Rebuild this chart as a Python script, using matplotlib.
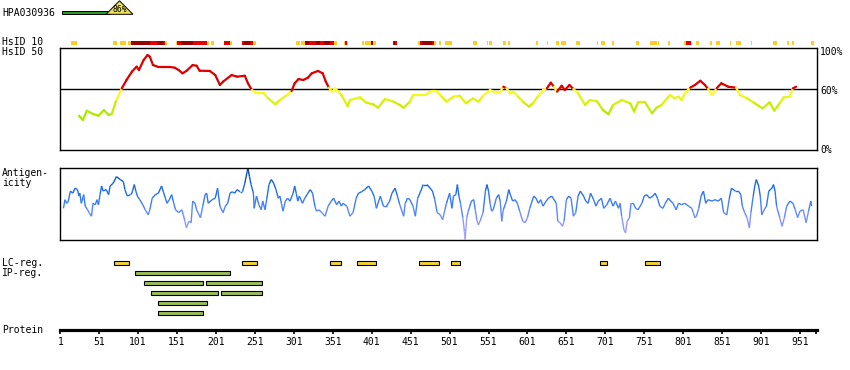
import matplotlib
matplotlib.use('Agg')
import matplotlib.pyplot as plt
import numpy as np
from matplotlib.collections import LineCollection
from matplotlib.colors import LinearSegmentedColormap
from matplotlib.patches import Rectangle, Polygon

# ---- data ----
antibody = "HPA030936"
antibody_score = 86
protein_len = 972

tick_res = [1, 51, 101, 151, 201, 251, 301, 351, 401, 451, 501, 551, 601, 651,
            701, 751, 801, 851, 901, 951]

# HsID 10 strip: (start, end) residue ranges per level
hs10_gold = [(15, 18), (19, 22), (69, 74), (78, 85), (88, 92), (136, 138), (149, 151),
             (189, 192), (194, 198), (219, 222), (249, 252), (304, 309), (310, 315),
             (352, 356), (366, 367), (369, 370), (388, 391), (392, 400), (402, 406),
             (424, 425), (460, 463), (481, 483), (487, 490), (495, 504), (531, 536),
             (549, 550), (552, 555), (570, 573), (576, 579), (612, 614), (626, 627),
             (638, 641), (644, 651), (663, 669), (690, 692), (695, 700), (709, 712),
             (741, 744), (758, 768), (769, 770), (781, 784), (802, 805), (811, 812),
             (817, 821), (835, 838), (843, 848), (861, 862), (869, 875), (888, 890),
             (916, 921), (935, 937), (941, 943), (965, 969)]
hs10_red = [(116, 125), (133, 136), (151, 156), (172, 189), (211, 219), (235, 237),
            (245, 249), (321, 329), (334, 340), (347, 352), (367, 369), (428, 429),
            (431, 434), (463, 465), (478, 481), (805, 811)]
hs10_dark = [(92, 116), (125, 133), (156, 172), (237, 245), (315, 321), (329, 334),
             (340, 347), (400, 402), (429, 431), (465, 478)]

# HsID 50 identity curve (%)
hs50_res = [25, 30, 35, 43, 50, 57, 63, 67, 73, 80, 86, 93, 99, 102, 108, 113, 116, 120,
            127, 142, 148, 153, 158, 163, 171, 176, 180, 193, 200, 206, 210, 221, 228,
            238, 242, 247, 253, 262, 268, 277, 283, 292, 298, 302, 307, 313, 319, 324,
            332, 338, 342, 346, 350, 354, 358, 362, 370, 373, 386, 394, 403, 409, 418,
            429, 437, 442, 450, 454, 461, 469, 478, 484, 491, 497, 506, 514, 522, 531,
            538, 544, 553, 559, 566, 570, 574, 579, 583, 589, 596, 603, 608, 615, 621,
            626, 631, 635, 639, 645, 649, 655, 660, 666, 675, 681, 690, 698, 705, 711,
            722, 733, 738, 743, 752, 761, 767, 773, 784, 790, 795, 799, 803, 810, 816,
            823, 829, 833, 838, 844, 850, 859, 869, 874, 883, 893, 903, 912, 918, 925,
            930, 938, 942, 946]
hs50_pct = [33.6, 29.4, 38.5, 35.3, 33.6, 39.2, 34.3, 35.3, 49, 60.5, 68.6, 76.8, 81.7,
            78.4, 88.2, 93.1, 91.5, 83.3, 81.4, 81.4, 80.7, 78.4, 75.2, 77.5, 83.3, 82.6,
            77.7, 77.5, 73.5, 63.7, 67, 73.5, 71.9, 72.8, 65.4, 58.8, 55.6, 55.6, 50.7,
            44.8, 49, 53.9, 57.8, 65.4, 69.6, 68.6, 70.9, 75.2, 77.5, 75.2, 67, 61.1,
            57.2, 60.5, 57.2, 53.9, 43.1, 49, 51.6, 46.4, 44.8, 41.5, 50, 47.4, 44.1,
            41.5, 47.4, 53.9, 53.9, 53.9, 57.8, 57.8, 52.3, 47.4, 52.3, 53.2, 45.8, 50.7,
            47.4, 53.2, 58.8, 56.5, 57.2, 62, 60.5, 55.6, 57.2, 52.3, 46.8, 42.5, 45.8,
            53.2, 58.8, 60.5, 66, 62, 57.2, 63, 58.8, 63.7, 59.8, 55.6, 44.1, 49, 48,
            39.2, 35, 44.1, 49, 45.8, 37.6, 46.8, 46.8, 36, 41.5, 44.1, 53.9, 50.7, 52.3,
            49, 55.6, 61.1, 63.7, 67.9, 63.7, 59.8, 53.9, 60.5, 65.4, 62, 61.1, 53.9,
            50.7, 45.8, 40.8, 46.8, 38.5, 45.8, 51.6, 52.3, 60.5, 62]

# antigenicity profile (relative height, 0-100)
ant_res = [5, 7, 9, 11, 14, 17, 20, 23, 25, 26, 28, 31, 33, 36, 38, 41, 43, 46, 48, 50,
           52, 54, 56, 60, 63, 65, 69, 73, 78, 82, 84, 87, 91, 93, 96, 98, 100, 103, 107,
           110, 114, 116, 119, 123, 127, 131, 133, 136, 138, 141, 144, 146, 149, 153, 157,
           159, 161, 163, 166, 169, 171, 174, 176, 181, 184, 187, 189, 191, 196, 200, 203,
           206, 210, 213, 216, 219, 222, 225, 228, 232, 235, 238, 241, 242, 244, 246, 249,
           250, 253, 256, 259, 261, 264, 266, 269, 272, 275, 278, 281, 283, 285, 287, 290,
           293, 296, 300, 302, 304, 306, 308, 312, 315, 319, 322, 325, 328, 330, 333, 337,
           341, 345, 349, 352, 356, 359, 362, 364, 369, 373, 377, 381, 384, 388, 392, 397,
           401, 404, 407, 412, 416, 420, 424, 427, 431, 434, 437, 442, 444, 447, 450, 454,
           457, 460, 464, 467, 472, 476, 479, 482, 485, 489, 492, 495, 497, 501, 504, 506,
           509, 511, 513, 515, 518, 520, 521, 523, 525, 527, 529, 532, 534, 536, 538, 540,
           544, 547, 549, 551, 553, 555, 557, 561, 564, 566, 568, 570, 574, 577, 579, 582,
           585, 588, 591, 595, 598, 601, 604, 609, 612, 615, 618, 621, 625, 628, 632, 634,
           638, 640, 643, 646, 648, 651, 654, 657, 660, 663, 666, 669, 673, 676, 679, 682,
           686, 689, 692, 696, 699, 703, 707, 711, 714, 718, 720, 722, 725, 727, 729, 732,
           734, 737, 740, 743, 748, 751, 754, 758, 762, 765, 768, 771, 775, 778, 782, 785,
           788, 792, 795, 799, 803, 808, 812, 814, 816, 818, 821, 824, 827, 830, 833, 838,
           842, 846, 850, 853, 857, 860, 863, 868, 872, 875, 877, 880, 883, 886, 888, 891,
           893, 895, 898, 900, 902, 905, 908, 911, 915, 917, 919, 921, 925, 928, 931, 934,
           938, 942, 945, 948, 951, 955, 959, 962, 965, 966]
ant_val = [44, 56, 51, 53, 68, 65, 72, 70, 61, 65, 51, 63, 47, 42, 38, 33, 51, 49, 56, 49,
           63, 75, 68, 70, 63, 75, 79, 88, 84, 81, 70, 61, 63, 65, 77, 68, 61, 56, 49,
           42, 35, 42, 58, 63, 65, 75, 68, 58, 51, 56, 63, 54, 42, 38, 42,
           35, 26, 17, 26, 24, 54, 51, 42, 31, 47, 63, 65, 51, 56, 58, 72,
           47, 38, 47, 51, 65, 67, 65, 70, 67, 67, 79, 95, 99, 88, 77, 65,
           44, 61, 49, 42, 54, 42, 56, 77, 84, 79, 70, 58, 61, 51, 40, 54,
           58, 54, 65, 75, 65, 54, 61, 51, 58, 65, 70, 65, 47, 40, 42, 38,
           33, 47, 54, 58, 49, 54, 47, 51, 47, 33, 38, 58, 65, 67, 70, 75,
           68, 61, 44, 61, 47, 47, 54, 65, 72, 61, 49, 33, 51, 58, 56, 47,
           33, 58, 68, 77, 77, 72, 68, 56, 38, 35, 28, 42, 51, 65, 44, 61,
           63, 77, 61, 51, 31, 12, 1, 31, 40, 47, 54, 56, 42, 28, 21, 26,
           38, 68, 77, 68, 51, 40, 42, 58, 63, 54, 26, 42, 54, 70, 63, 54,
           56, 51, 40, 26, 24, 31, 44, 61, 58, 51, 56, 47, 54, 58, 61, 58,
           51, 26, 24, 19, 26, 56, 61, 58, 33, 38, 61, 68, 61, 54, 51, 65,
           56, 47, 54, 58, 44, 49, 58, 47, 54, 44, 51, 33, 14, 10, 26, 31,
           51, 51, 44, 42, 51, 61, 63, 58, 61, 65, 58, 47, 44, 51, 58, 54,
           51, 42, 51, 49, 51, 47, 44, 38, 31, 33, 44, 61, 68, 51, 56, 54,
           56, 54, 58, 38, 35, 56, 72, 68, 68, 63, 47, 38, 31, 17, 38, 61,
           75, 84, 75, 61, 35, 42, 47, 68, 72, 77, 68, 47, 31, 19, 31, 47,
           54, 51, 42, 31, 40, 42, 24, 40, 54, 47]

# LC regions and IP regions (residues)
lc_start = [70, 235, 348, 382, 462, 503, 694, 752]
lc_end = [89, 253, 361, 406, 487, 514, 703, 771]
ip_start = [97, 108, 188, 117, 208, 126, 127]
ip_end = [219, 184, 260, 204, 260, 189, 184]
ip_row = [1, 2, 2, 3, 3, 4, 5]

# ---- figure ----
W, H = 850, 370
fig = plt.figure(figsize=(W / 100, H / 100), dpi=100)
FONT = 'DejaVu Sans Mono'
FS = 7
XL = (0.6, 972.9)


def px_axes(x0, y0, x1, y1):
    return fig.add_axes([x0 / W, 1 - y1 / H, (x1 - x0) / W, (y1 - y0) / H])


def label(x, y, s, ha='left', size=FS):
    fig.text(x / W, 1 - y / H, s, ha=ha, va='center', fontsize=size, family=FONT)


# header badge
label(2, 12.5, antibody)
axh = px_axes(60, 0, 140, 16)
axh.set_xlim(60, 140)
axh.set_ylim(16, 0)
axh.axis('off')
axh.add_patch(Rectangle((62, 11), 48, 3.3, facecolor='#2e9a2e', edgecolor='black', lw=0.7))
axh.add_patch(Polygon([(106, 14.3), (119.5, 0.8), (133, 14.3)], closed=True,
                      facecolor='#eedd55', edgecolor='black', lw=0.7))
axh.text(119.5, 9.8, f"{antibody_score}%", ha='center', va='center', fontsize=5.8, family=FONT)

# HsID 10 strip
ax10 = px_axes(60, 41, 817, 45)
ax10.set_xlim(*XL)
ax10.set_ylim(0, 1)
ax10.axis('off')
for ranges, col in [(hs10_gold, '#ffcc22'), (hs10_red, '#e80000'), (hs10_dark, '#990000')]:
    ax10.broken_barh([(s, e - s) for s, e in ranges], (0, 1), facecolor=col, edgecolor='none')

label(2, 42, "HsID 10")
label(2, 52, "HsID 50")

# HsID 50 panel
ax50 = px_axes(60, 48, 817, 150)
ax50.set_xlim(*XL)
ax50.set_ylim(0, 100)
ax50.set_xticks([])
ax50.set_yticks([])
for sp in ax50.spines.values():
    sp.set_linewidth(1.0)
ax50.axhline(60, color='black', lw=1.0)
low_cmap = LinearSegmentedColormap.from_list(
    'low', [(0, '#99e600'), (0.5, '#ccee00'), (1, '#ffff22')])
pts = np.column_stack([hs50_res, hs50_pct])
segs = np.stack([pts[:-1], pts[1:]], axis=1)
cols = []
for a, b in zip(hs50_pct[:-1], hs50_pct[1:]):
    m = (a + b) / 2
    if m >= 60:
        cols.append('#dd0000')
    else:
        cols.append(low_cmap(np.clip((m - 30) / 28, 0, 1)))
ax50.add_collection(LineCollection(segs, colors=cols, linewidths=1.6, capstyle='round'))
label(820, 52, "100%")
label(820, 90.5, "60%")
label(820, 150.5, "0%")

# antigenicity panel
axa = px_axes(60, 168, 817, 240)
axa.set_xlim(*XL)
axa.set_ylim(0, 100)
axa.set_xticks([])
axa.set_yticks([])
for sp in axa.spines.values():
    sp.set_linewidth(1.0)
ant_cmap = LinearSegmentedColormap.from_list(
    'ant', [(0, '#b6a8ff'), (0.25, '#8c95ff'), (0.45, '#4a82ff'), (0.6, '#2a74f2'),
            (0.8, '#1062e0'), (1, '#003a99')])
pts = np.column_stack([ant_res, ant_val])
segs = np.stack([pts[:-1], pts[1:]], axis=1)
mids = (np.array(ant_val[:-1]) + np.array(ant_val[1:])) / 200
axa.add_collection(LineCollection(segs, colors=ant_cmap(mids), linewidths=1.0))
label(2, 172.5, "Antigen-")
label(2, 183.5, "icity")

# regions + protein axis
axr = px_axes(60, 255, 817, 330)
axr.set_xlim(*XL)
axr.set_ylim(6.73, -0.77)
for s in ['top', 'left', 'right']:
    axr.spines[s].set_visible(False)
axr.spines['bottom'].set_linewidth(2.3)
axr.set_yticks([])
axr.set_xticks(tick_res + [protein_len])
axr.set_xticklabels([str(t) for t in tick_res] + [''], fontsize=FS, family=FONT)
axr.tick_params(axis='x', length=3, width=1.2, pad=2)
axr.barh([0] * len(lc_start), np.array(lc_end) - np.array(lc_start), left=lc_start,
         height=0.42, color='#f2d535', edgecolor='black', linewidth=0.8)
axr.barh(ip_row, np.array(ip_end) - np.array(ip_start), left=ip_start,
         height=0.42, color='#9cbf59', edgecolor='black', linewidth=0.8)
label(2, 263, "LC-reg.")
label(2, 273, "IP-reg.")
label(2, 330, "Protein")

fig.savefig('out.png', dpi=100)
